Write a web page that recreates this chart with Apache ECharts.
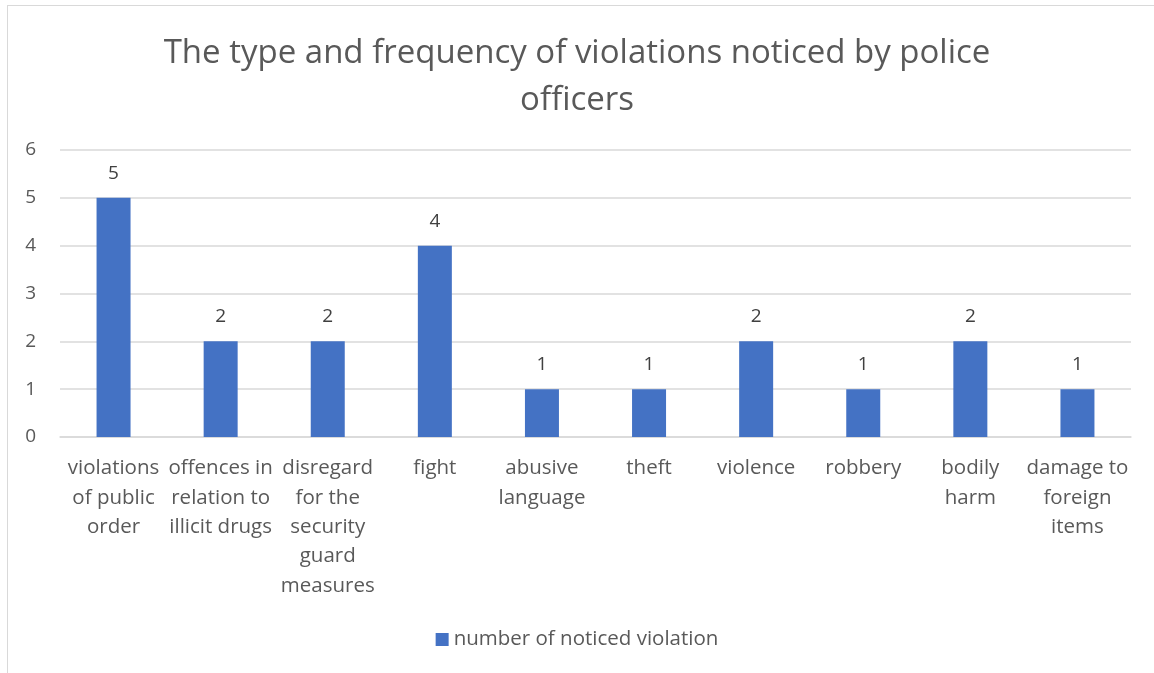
<!DOCTYPE html>
<html>
<head>
    <meta charset="utf-8">
    <title>ECharts</title>
    <script src="https://cdn.jsdelivr.net/npm/echarts@6/dist/echarts.min.js"></script>
    <style>
        body { margin: 0; background: #fff; }
        #frame { position: absolute; left: 7px; top: 5px; width: 1160px; height: 680px; border: 1px solid #d9d9d9; }
    </style>
</head>
<body>
    <div id="frame"></div>
    <div id="main" style="position:absolute;left:0;top:0;width: 1154px;height:673px;"></div>
    <script type="text/javascript">
        // categories (with line breaks as in the picture)
        let categories = [
            'violations\nof public\norder',
            'offences in\nrelation to\nillicit drugs',
            'disregard\nfor the\nsecurity\nguard\nmeasures',
            'fight',
            'abusive\nlanguage',
            'theft',
            'violence',
            'robbery',
            'bodily\nharm',
            'damage to\nforeign\nitems'
        ]
        let counts = [5, 2, 2, 4, 1, 1, 2, 1, 2, 1]
        let seriesName = 'number of noticed violation'

        let font = '"Open Sans", "Noto Sans", sans-serif'
        let myChart = echarts.init(document.getElementById('main'));

        let option = {
            animation: false,
            title: {
                text: 'The type and frequency of violations noticed by police\nofficers',
                left: 'center',
                top: 25,
                textStyle: {
                    fontFamily: font,
                    fontSize: 33,
                    fontWeight: 'normal',
                    color: '#595959',
                    lineHeight: 47
                }
            },
            legend: {
                data: [seriesName],
                bottom: 18,
                left: 'center',
                icon: 'rect',
                itemWidth: 13,
                itemHeight: 13,
                itemGap: 6,
                textStyle: { fontFamily: font, fontSize: 20.5, color: '#595959' }
            },
            grid: { left: 60, right: 23, top: 150, bottom: 236, containLabel: false },
            xAxis: {
                type: 'category',
                data: categories,
                axisLine: { lineStyle: { color: '#d9d9d9', width: 1.5 } },
                axisTick: { show: false },
                axisLabel: {
                    interval: 0,
                    margin: 17,
                    fontFamily: font,
                    fontSize: 20.5,
                    color: '#595959',
                    lineHeight: 29.3
                }
            },
            yAxis: {
                type: 'value',
                min: 0,
                max: 6,
                interval: 1,
                axisLine: { show: false },
                axisTick: { show: false },
                splitLine: { lineStyle: { color: '#d9d9d9', width: 1.5 } },
                axisLabel: {
                    margin: 24,
                    fontFamily: font,
                    fontSize: 19,
                    color: '#595959'
                }
            },
            series: [
                {
                    name: seriesName,
                    type: 'bar',
                    data: counts,
                    barWidth: 34,
                    itemStyle: { color: '#4472c4' },
                    label: {
                        show: true,
                        position: 'top',
                        distance: 15,
                        fontFamily: font,
                        fontSize: 19,
                        color: '#404040'
                    }
                }
            ]
        };

        myChart.setOption(option);
    </script>
</body>
</html>
